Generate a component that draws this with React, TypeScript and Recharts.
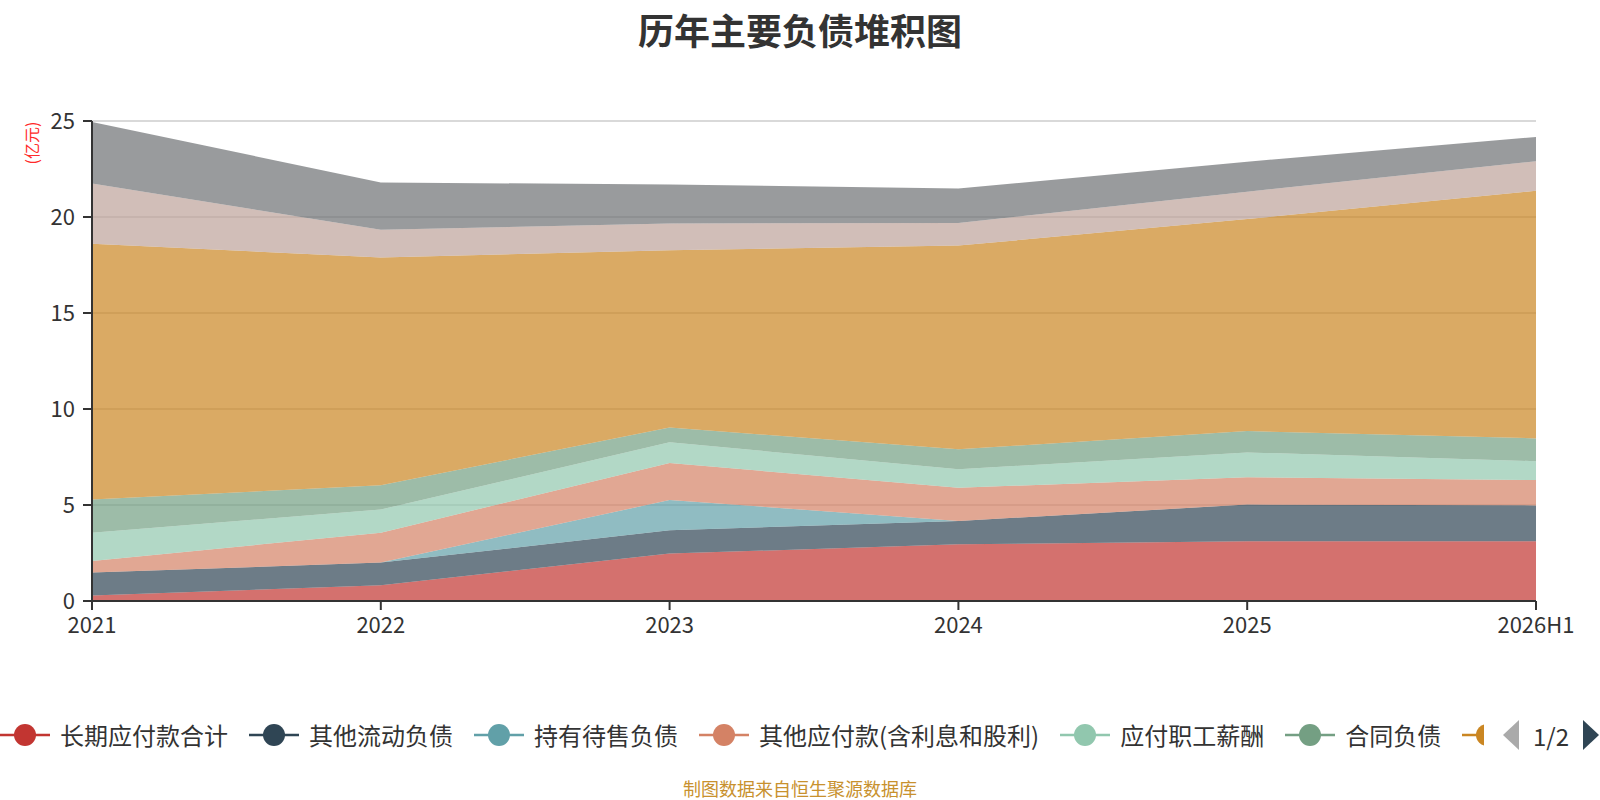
import { AreaChart, Area, XAxis, YAxis, CartesianGrid } from "recharts"

const years = ["2021", "2022", "2023", "2024", "2025", "2026H1"]

// 单位：亿元，自下而上堆叠
const longTermPayables = [0.28, 0.82, 2.47, 2.95, 3.11, 3.11]
const otherCurrentLiabilities = [1.2, 1.18, 1.21, 1.22, 1.91, 1.87]
const heldForSaleLiabilities = [0, 0, 1.58, 0, 0, 0]
const otherPayables = [0.6, 1.56, 1.93, 1.73, 1.42, 1.32]
const payrollPayable = [1.48, 1.2, 1.08, 0.96, 1.3, 0.98]
const contractLiabilities = [1.72, 1.27, 0.76, 1.04, 1.11, 1.19]
const accountsPayable = [13.33, 11.86, 9.24, 10.61, 11.04, 12.9]
const taxesPayable = [3.13, 1.45, 1.39, 1.18, 1.43, 1.53]
const shortTermLoans = [3.21, 2.46, 2.03, 1.79, 1.56, 1.27]

const yTicks = [0, 5, 10, 15, 20, 25]

const series = [
  { key: "longTermPayables", name: "长期应付款合计", color: "#c23531", values: longTermPayables },
  { key: "otherCurrentLiabilities", name: "其他流动负债", color: "#2f4554", values: otherCurrentLiabilities },
  { key: "heldForSaleLiabilities", name: "持有待售负债", color: "#61a0a8", values: heldForSaleLiabilities },
  { key: "otherPayables", name: "其他应付款(含利息和股利)", color: "#d48265", values: otherPayables },
  { key: "payrollPayable", name: "应付职工薪酬", color: "#91c7ae", values: payrollPayable },
  { key: "contractLiabilities", name: "合同负债", color: "#749f83", values: contractLiabilities },
  { key: "accountsPayable", name: "应付票据及应付账款", color: "#ca8622", values: accountsPayable },
  { key: "taxesPayable", name: "应交税费", color: "#bda29a", values: taxesPayable },
  { key: "shortTermLoans", name: "短期借款", color: "#6e7074", values: shortTermLoans },
]

// legend page 1: six full items, the seventh only peeks in at the edge
const legendFull = series.slice(0, 6)
const legendPeek = series[6]

const chartData = years.map((year, i) => {
  const row: Record<string, any> = { year }
  series.forEach((s) => {
    row[s.key] = s.values[i]
  })
  return row
})

const FONT = '"Noto Sans CJK SC", "Noto Sans", sans-serif'

const UnitLabel = () => (
  <text
    x={31}
    y={143}
    transform="rotate(-90, 31, 143)"
    textAnchor="middle"
    dominantBaseline="central"
    fill="#ff2a2a"
    fontSize={16}
    fontFamily={FONT}
  >
    (亿元)
  </text>
)

const LegendIcon = ({ color }: { color: string }) => (
  <svg width={50} height={24} style={{ display: "block" }}>
    <line x1={0} y1={12} x2={50} y2={12} stroke={color} strokeWidth={2.5} />
    <circle cx={25} cy={12} r={11} fill={color} />
  </svg>
)

export default function App() {
  return (
    <div style={{ position: "absolute", left: 0, top: 0, width: 1600, height: 800, background: "#fff", fontFamily: FONT }}>
      <div
        style={{
          position: "absolute",
          top: 11,
          left: 0,
          width: 1600,
          textAlign: "center",
          fontSize: 36,
          lineHeight: "36px",
          fontWeight: "bold",
          color: "#333",
        }}
      >
        历年主要负债堆积图
      </div>

      <AreaChart width={1600} height={800} data={chartData} margin={{ top: 121, right: 64, left: 0, bottom: 0 }}>
        <CartesianGrid vertical={false} stroke="#cccccc" strokeWidth={1.5} />
        <XAxis
          dataKey="year"
          height={199}
          tickSize={9}
          tickMargin={7}
          axisLine={{ stroke: "#333", strokeWidth: 2 }}
          tickLine={{ stroke: "#333", strokeWidth: 2 }}
          tick={{ fill: "#333", fontSize: 22, fontFamily: FONT }}
          interval={0}
        />
        <YAxis
          width={92}
          domain={[0, 25]}
          ticks={yTicks}
          tickSize={9}
          tickMargin={8}
          axisLine={{ stroke: "#333", strokeWidth: 2 }}
          tickLine={{ stroke: "#333", strokeWidth: 2 }}
          tick={{ fill: "#333", fontSize: 22, fontFamily: FONT }}
          label={<UnitLabel />}
        />
        {series.map((s) => (
          <Area
            key={s.key}
            type="linear"
            dataKey={s.key}
            name={s.name}
            stackId="total"
            stroke="none"
            fill={s.color}
            fillOpacity={0.7}
            dot={false}
            activeDot={false}
            isAnimationActive={false}
          />
        ))}
      </AreaChart>

      {/* 图例第1页 */}
      <div style={{ position: "absolute", left: 0, top: 715, width: 1484, height: 40, overflow: "hidden" }}>
        <div style={{ display: "flex", alignItems: "center", whiteSpace: "nowrap", height: 40 }}>
          {legendFull.map((s) => (
            <div key={s.key} style={{ display: "flex", alignItems: "center", marginRight: 21, flexShrink: 0 }}>
              <LegendIcon color={s.color} />
              <span style={{ marginLeft: 10, fontSize: 24, lineHeight: "40px", color: "#333" }}>{s.name}</span>
            </div>
          ))}
          <div style={{ flexShrink: 0 }}>
            <LegendIcon color={legendPeek.color} />
          </div>
        </div>
      </div>
      <svg style={{ position: "absolute", left: 1500, top: 719 }} width={100} height={32}>
        <polygon points="19,1 19,31 3,16" fill="#aaaaaa" />
        <text x={51} y={16} textAnchor="middle" dominantBaseline="central" fontSize={24} fill="#333" fontFamily={FONT}>
          1/2
        </text>
        <polygon points="83,1 83,31 99,16" fill="#2f4554" />
      </svg>

      <div
        style={{
          position: "absolute",
          top: 777,
          left: 0,
          width: 1600,
          textAlign: "center",
          fontSize: 18,
          lineHeight: "22px",
          color: "#c8912e",
        }}
      >
        制图数据来自恒生聚源数据库
      </div>
    </div>
  )
}
